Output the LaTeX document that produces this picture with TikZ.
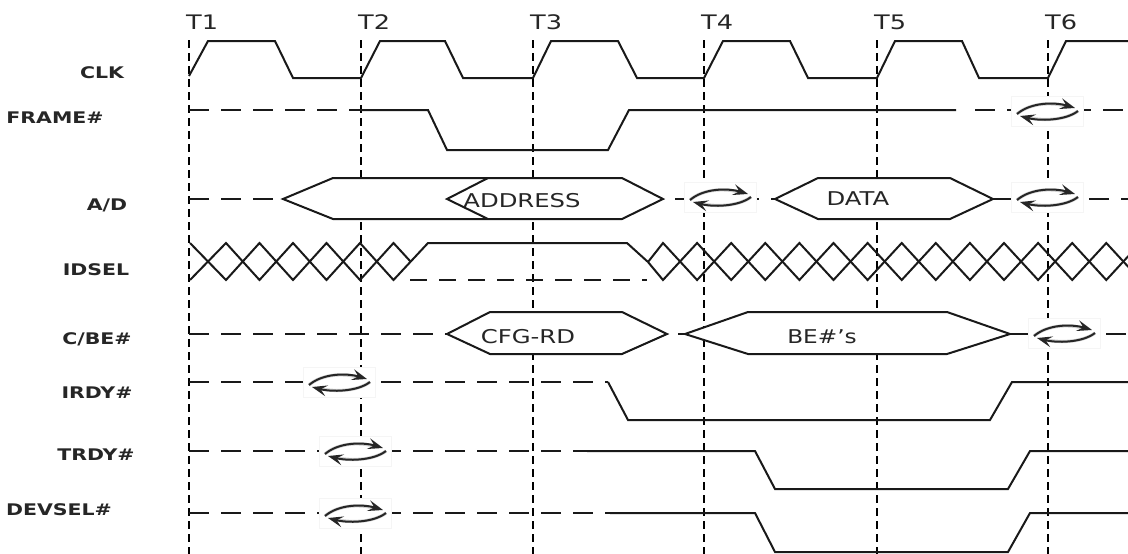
\documentclass[tikz,border=0pt]{standalone}
\usepackage{fontspec}
\usepackage{graphicx}
\setmainfont{DejaVu Sans}
\usetikzlibrary{arrows.meta}
\tikzset{
  sig/.style={line width=2pt, black!90, line join=miter},
  sigdash/.style={sig, dash pattern=on 20pt off 12pt},
  tline/.style={line width=2.6pt, black, dash pattern=on 8pt off 5pt},
  bus/.style={sig, fill=white},
  lbl/.style={font=\fontsize{16pt}{18pt}\selectfont\bfseries, text=black!85, inner sep=0pt, anchor=base},
  tlbl/.style={font=\fontsize{20pt}{22pt}\selectfont, text=black!85, inner sep=0pt, anchor=base west},
  btxt/.style={font=\fontsize{19pt}{21pt}\selectfont, text=black!85, inner sep=0pt, anchor=base},
  tarrow/.style={line width=2pt, black!85, -{Stealth[length=15pt,width=11pt,inset=6pt]}},
  tshade/.style={line width=3.2pt, gray!35},
  turnaround/.pic={
    \fill[white] (-36,-15) rectangle (36,15);
    \draw[gray!8, line width=0.4pt] (-36,-15) rectangle (36,15);
    \draw[tshade] (-30,3) .. controls (-16,-9) and (8,-9) .. (22,-4);
    \draw[tshade] (31,0) .. controls (18,10) and (-8,10) .. (-20,6);
    \draw[tarrow] (-30,3) .. controls (-16,-9) and (8,-9) .. (28,-3);
    \draw[tarrow] (31,0) .. controls (18,10) and (-8,10) .. (-27,5);
  }
}
\begin{document}
\begin{tikzpicture}[x=1pt,y=-1pt]
\useasboundingbox (0,0) rectangle (1128,554);
\begin{scope}
\clip (0,0) rectangle (1128,554);
% time lines
\foreach \t/\n in {189/T1,361/T2,533/T3,704/T4,877/T5,1048/T6}{
  \draw[tline] (\t,40) -- (\t,554);
  \node[tlbl] (lab\n) at (\t-3,30) {\scalebox{1.28}[1]{\n}};
}
% CLK
\draw[sig] (189,76) -- (208,41) -- (275,41) -- (293,78) -- (361,78) -- (380,41) -- (445,41) -- (463,78)
  -- (533,78) -- (551,41) -- (618,41) -- (637,78) -- (704,78) -- (723,41) -- (790,41) -- (808,78)
  -- (877,78) -- (895,41) -- (962,41) -- (979,78) -- (1048,78) -- (1066,41) -- (1128,41);
% FRAME#
\draw[sigdash] (189,110) -- (361,110);
\draw[sig] (361,110) -- (428,110) -- (447,150) -- (608,150) -- (629,110) -- (956,110);
\draw[sigdash] (975,110) -- (1128,110);
% A/D
\draw[sigdash] (189,199) -- (283,199);
\draw[bus] (283,199) -- (333,178) -- (622,178) -- (663,199) -- (622,219) -- (333,219) -- cycle;
\draw[sig] (488,178) -- (447,199) -- (488,219);
\draw[sigdash] (675,199) -- (775,199);
\draw[bus] (775,199) -- (818,178) -- (950,178) -- (993,199) -- (950,219) -- (818,219) -- cycle;
\draw[sigdash] (993,199) -- (1128,199);
% IDSEL
\draw[sig] (190,243) \foreach \k in {1,...,6}{ -- ({192.5+33.5*\k},{261.5-18.5*cos(180*\k)}) } -- (410.5,261.5);
\draw[sig] (190,280) \foreach \k in {1,...,6}{ -- ({192.5+33.5*\k},{261.5+18.5*cos(180*\k)}) } -- (428,243) -- (627,243) -- (648,262);
\draw[sig, dash pattern=on 17pt off 12pt] (410,280) -- (647,280);
\draw[sig] (648,262) \foreach \k in {0,...,14}{ -- ({663+34.1*\k},{261.5-18.5*cos(180*\k)}) };
\draw[sig] (648,262) \foreach \k in {0,...,14}{ -- ({663+34.1*\k},{261.5+18.5*cos(180*\k)}) };
% C/BE#
\draw[sigdash] (189,334) -- (447,334);
\draw[bus] (447,334) -- (490,312) -- (622,312) -- (667,334) -- (622,354) -- (490,354) -- cycle;
\draw[sig] (678,334) -- (685,334);
\draw[bus] (685,334) -- (748,312) -- (947,312) -- (1010,334) -- (947,354) -- (748,354) -- cycle;
\draw[sigdash] (1010,334) -- (1128,334);
% IRDY#
\draw[sigdash] (189,382) -- (608,382);
\draw[sig] (608,382) -- (628,420) -- (990,420) -- (1012,382) -- (1128,382);
% TRDY#
\draw[sigdash] (189,451) -- (587,451);
\draw[sig] (587,451) -- (755,451) -- (775,489) -- (1008,489) -- (1030,451) -- (1128,451);
% DEVSEL#
\draw[sigdash] (189,513) -- (610,513);
\draw[sig] (610,513) -- (755,513) -- (775,552) -- (1008,552) -- (1030,513) -- (1128,513);
% turnaround symbols
\pic at (1047,111) {turnaround};
\pic at (720,197) {turnaround};
\pic at (1047,197) {turnaround};
\pic at (1064,333) {turnaround};
\pic at (339,382) {turnaround};
\pic at (355,451) {turnaround};
\pic at (355,513) {turnaround};
\end{scope}
% bus texts
\node[btxt] (taddr) at (522,207) {\scalebox{1.28}[1]{ADDRESS}};
\node[btxt] (tdata) at (858,205) {\scalebox{1.28}[1]{DATA}};
\node[btxt] (tcfg) at (528,343) {\scalebox{1.28}[1]{CFG-RD}};
\node[btxt] (tbe) at (822,343) {\scalebox{1.22}[1]{BE\#’s}};
% signal labels
\node[lbl] (lclk) at (102,78) {\scalebox{1.28}[1]{CLK}};
\node[lbl] (lframe) at (55,123) {\scalebox{1.28}[1]{FRAME\#}};
\node[lbl] (lad) at (107,210) {\scalebox{1.28}[1]{A/D}};
\node[lbl] (lidsel) at (96,275) {\scalebox{1.28}[1]{IDSEL}};
\node[lbl] (lcbe) at (97,344) {\scalebox{1.28}[1]{C/BE\#}};
\node[lbl] (lirdy) at (97,398) {\scalebox{1.28}[1]{IRDY\#}};
\node[lbl] (ltrdy) at (96,460) {\scalebox{1.28}[1]{TRDY\#}};
\node[lbl] (ldevsel) at (59,515) {\scalebox{1.28}[1]{DEVSEL\#}};
\end{tikzpicture}
\end{document}
